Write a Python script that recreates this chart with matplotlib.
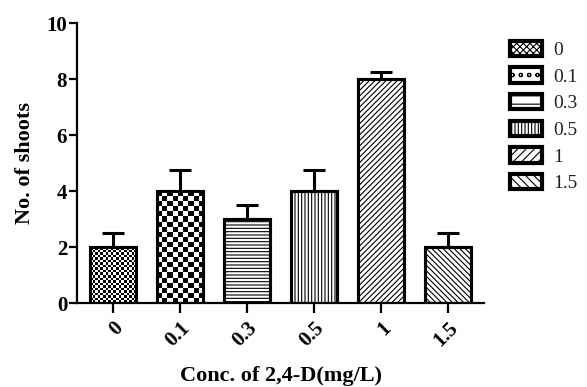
import numpy as np
import matplotlib
matplotlib.use("Agg")
import matplotlib.pyplot as plt
from matplotlib.patches import Patch

# Data
conc = ["0", "0.1", "0.3", "0.5", "1", "1.5"]
shoots = [2, 4, 3, 4, 8, 2]
sem = [0.5, 0.75, 0.5, 0.75, 0.25, 0.5]
hatches = [None, None, "-----", "|||||", "//////", "\\\\\\\\\\\\"]
checker_cells = [2.6, 5.2, None, None, None, None]  # checkerboard cell size (px)

plt.rcParams["font.family"] = ["Liberation Serif", "DejaVu Serif"]
plt.rcParams["hatch.linewidth"] = 0.8

fig = plt.figure(figsize=(5.87, 3.87), dpi=100)
ax = fig.add_axes([0.131, 0.217, 0.694, 0.723])

x = np.arange(len(conc))
bars = ax.bar(x, shoots, width=0.69, color="white", edgecolor="black",
              linewidth=2.2, zorder=2)
for b, h in zip(bars, hatches):
    if h:
        b.set_hatch(h)

ax.errorbar(x, shoots, yerr=[np.zeros(len(sem)), sem], fmt="none",
            ecolor="black", elinewidth=2.2, capsize=8, capthick=2.2, zorder=1)

ax.set_xlim(-0.54, 5.54)
ax.set_ylim(0, 10)
ax.set_yticks([0, 2, 4, 6, 8, 10])
ax.set_xticks(x)
ax.set_xticklabels(conc, rotation=45, ha="right", va="top",
                   rotation_mode="anchor", fontweight="bold", fontsize=15)
for t in ax.get_yticklabels():
    t.set_fontweight("bold")
    t.set_fontsize(15)
ax.tick_params(width=1.6, length=6, pad=1)
ax.tick_params(axis="x", length=7, pad=4)
for s in ["top", "right"]:
    ax.spines[s].set_visible(False)
for s in ["left", "bottom"]:
    ax.spines[s].set_linewidth(1.6)

ax.set_ylabel("No. of shoots", fontweight="bold", fontsize=16, labelpad=8)
ax.set_xlabel("Conc. of 2,4-D(mg/L)", fontweight="bold", fontsize=16, labelpad=11)

# checkerboard fills, clipped to the bars
fig.canvas.draw()
for b, cell in zip(bars, checker_cells):
    if cell is None:
        continue
    x0, y0 = b.get_x(), b.get_y()
    x1, y1 = x0 + b.get_width(), y0 + b.get_height()
    p0 = ax.transData.transform((x0, y0))
    p1 = ax.transData.transform((x1, y1))
    nx = max(int(round(abs(p1[0] - p0[0]) / cell)), 1)
    ny = max(int(round(abs(p1[1] - p0[1]) / cell)), 1)
    board = (np.add.outer(np.arange(ny), np.arange(nx)) % 2).astype(float)
    im = ax.imshow(board, cmap="gray", extent=(x0, x1, y0, y1),
                   interpolation="nearest", aspect="auto", zorder=2.1)
    im.set_clip_path(b)
# redraw outlines on top
ax.bar(x, shoots, width=0.69, color="none", edgecolor="black",
       linewidth=2.2, zorder=3)
ax.set_xlim(-0.54, 5.54)
ax.set_ylim(0, 10)

legend_hatch = ["xxxxx", "oo", "--", "|||||", "////", "\\\\\\\\"]
handles = [Patch(facecolor="white", edgecolor="black", linewidth=3, hatch=h)
           for h in legend_hatch]
leg = fig.legend(handles, conc, loc="upper left", bbox_to_anchor=(0.862, 0.905),
                 frameon=False, fontsize=14, handlelength=1.65, handleheight=0.85,
                 labelspacing=0.42, handletextpad=0.6, borderaxespad=0,
                 borderpad=0.2)
for t in leg.get_texts():
    t.set_color("#222222")

fig.savefig("out.png", dpi=100)
